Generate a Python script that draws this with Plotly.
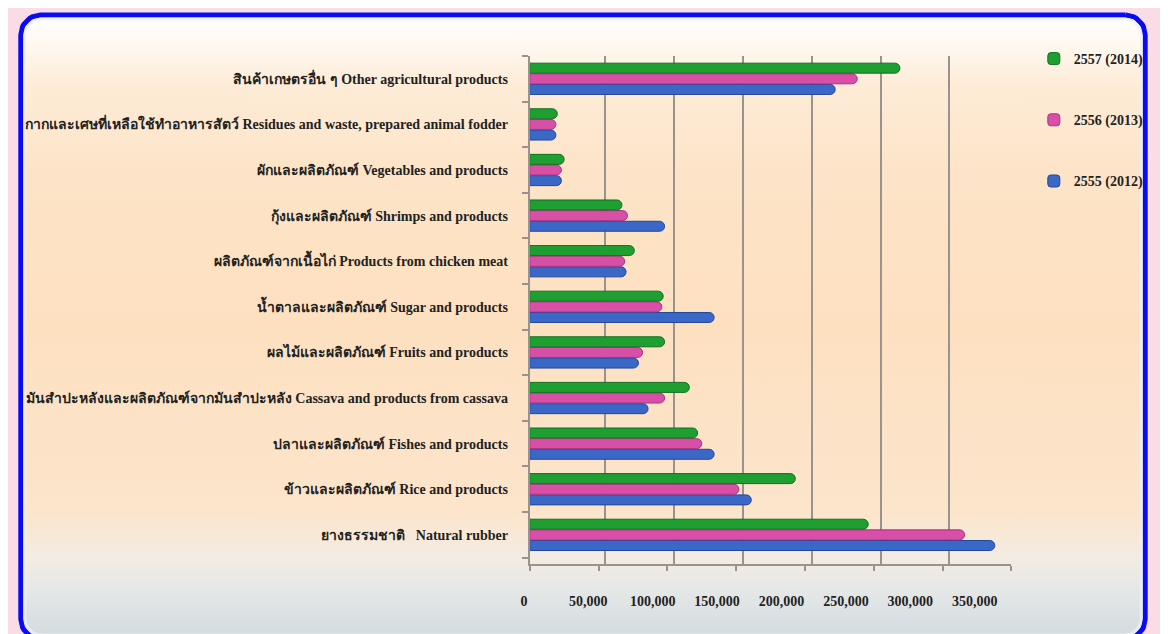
import numpy as np
import plotly.graph_objects as go

# categories listed bottom -> top
categories = [
    'ยางธรรมชาติ   Natural rubber',
    'ข้าวและผลิตภัณฑ์ Rice and products',
    'ปลาและผลิตภัณฑ์ Fishes and products',
    'มันสำปะหลังและผลิตภัณฑ์จากมันสำปะหลัง Cassava and products from cassava',
    'ผลไม้และผลิตภัณฑ์ Fruits and products',
    'น้ำตาลและผลิตภัณฑ์ Sugar and products',
    'ผลิตภัณฑ์จากเนื้อไก่ Products from chicken meat',
    'กุ้งและผลิตภัณฑ์ Shrimps and products',
    'ผักและผลิตภัณฑ์ Vegetables and products',
    'กากและเศษที่เหลือใช้ทำอาหารสัตว์ Residues and waste, prepared animal fodder',
    'สินค้าเกษตรอื่น ๆ Other agricultural products',
]
y2555 = [338000, 161000, 134000, 86000, 79000, 134000, 70000, 98000, 23000, 19000, 222000]
y2556 = [316000, 152000, 125000, 98000, 82000, 96000, 69000, 71000, 23000, 19000, 238000]
y2557 = [246000, 193000, 122000, 116000, 98000, 97000, 76000, 67000, 25000, 20000, 269000]
series_names = ['2555 (2012)', '2556 (2013)', '2557 (2014)']
tick_vals = [0, 50000, 100000, 150000, 200000, 250000, 300000, 350000]
tick_text = ['0', '50,000', '100,000', '150,000', '200,000', '250,000', '300,000', '350,000']

W, H = 1168, 634
fx = lambda p: p / W
fy = lambda p: 1 - p / H


def rounded_rect(x0, y0, x1, y1, r, n=12):
    # pixel coords -> paper fractions, corners rounded
    pts = []
    corners = [(x1 - r, y0 + r, -90, 0), (x1 - r, y1 - r, 0, 90),
               (x0 + r, y1 - r, 90, 180), (x0 + r, y0 + r, 180, 270)]
    for cx, cy, a0, a1 in corners:
        for a in np.linspace(np.radians(a0), np.radians(a1), n):
            pts.append((cx + r * np.cos(a), cy + r * np.sin(a)))
    pts.append(pts[0])
    xs = [fx(p[0]) for p in pts]
    ys = [fy(p[1]) for p in pts]
    return xs, ys


fig = go.Figure()

# background panel with gradient and blue rounded border (subplot xy, drawn first)
bx, by = rounded_rect(9, 7, 1160, 631, 20)
fig.add_trace(go.Scatter(
    x=bx, y=by, mode='lines', fill='toself', hoverinfo='skip', showlegend=False,
    line=dict(color='#0a0af5', width=5),
    fillgradient=dict(type='vertical', colorscale=[
        [0.0, '#d4dce1'], [0.04, '#dbe1e4'], [0.08, '#e6e8e7'], [0.13, '#f3ece3'],
        [0.2, '#fce5cc'], [0.5, '#fde0c0'], [0.75, '#fde4c8'], [0.89, '#fdecd8'],
        [0.95, '#fef8f0'], [1.0, '#ffffff']]),
    xaxis='x', yaxis='y'))
# soft inner rim
ix, iy = rounded_rect(13, 11, 1156, 627, 17)
fig.add_trace(go.Scatter(x=ix, y=iy, mode='lines', hoverinfo='skip', showlegend=False,
                         line=dict(color='rgba(235,240,248,0.8)', width=3),
                         xaxis='x', yaxis='y'))

# helper traces so the back-wall grid (x2) and the tick-label axis (x3) are drawn
fig.add_trace(go.Scatter(x=[0], y=[categories[0]], mode='markers', opacity=0,
                         hoverinfo='skip', showlegend=False, xaxis='x2', yaxis='y2'))
fig.add_trace(go.Scatter(x=[0], y=[categories[0]], mode='markers', opacity=0,
                         hoverinfo='skip', showlegend=False, xaxis='x3', yaxis='y2'))

colors = ['#3b68c6', '#d84fa8', '#1f9e32']
edges = ['#23479a', '#a8327c', '#127020']
ranks = [3, 2, 1]
for name, vals, c, e, rk in zip(series_names, [y2555, y2556, y2557], colors, edges, ranks):
    fig.add_trace(go.Bar(
        y=categories, x=vals, name=name, orientation='h', legendgroup=name, legendrank=rk,
        marker=dict(color=c, line=dict(color=e, width=1), cornerradius='50%'),
        xaxis='x4', yaxis='y2'))

serif = 'Liberation Serif, Times New Roman, serif'
grey = '#9a928c'

fig.update_layout(
    width=W, height=H,
    margin=dict(l=0, r=0, t=0, b=0),
    paper_bgcolor='#f9dce6',
    plot_bgcolor='rgba(0,0,0,0)',
    barmode='group', bargap=0.3, bargroupgap=0.06,
    font=dict(family=serif, color='#222222'),
    xaxis=dict(domain=[0, 1], range=[0, 1], visible=False, fixedrange=True),
    yaxis=dict(domain=[0, 1], range=[0, 1], visible=False, fixedrange=True),
    # back wall gridlines, shifted a little right of the front axis
    xaxis2=dict(domain=[fx(537), fx(1030)], range=[0, 350000], anchor='free', position=0,
                showgrid=True, gridcolor=grey, gridwidth=2, zeroline=False,
                showline=False, ticks='', tickvals=tick_vals, showticklabels=False),
    # tick labels, set lower and narrower as in the original
    xaxis3=dict(domain=[fx(524), fx(985.5)], range=[0, 350000],
                anchor='free', position=fy(583), showgrid=False, zeroline=False,
                showline=False, ticks='', tickvals=tick_vals, ticktext=tick_text,
                tickfont=dict(size=14, family=serif, weight='bold', color='#222222')),
    # front axis carrying the bars
    xaxis4=dict(domain=[fx(530), fx(1023)], range=[0, 350000], anchor='y2',
                showgrid=False, zeroline=False, showline=True, linecolor=grey, linewidth=2,
                ticks='outside', ticklen=5, tickcolor=grey, tickwidth=2,
                tickvals=tick_vals, showticklabels=False),
    yaxis2=dict(domain=[fy(556), fy(48)], anchor='x4', showgrid=False,
                showline=True, linecolor=grey, linewidth=2,
                ticks='outside', tickson='boundaries', ticklen=6, tickcolor=grey, tickwidth=2,
                ticklabelstandoff=17,
                tickfont=dict(size=14, family=serif, weight='bold', color='#222222')),
    legend=dict(x=fx(1046), y=fy(35), xanchor='left', yanchor='top',
                traceorder='grouped', tracegroupgap=40,
                bgcolor='rgba(0,0,0,0)',
                font=dict(size=14, family=serif, weight='bold', color='#222222')),
)

fig.write_html('out.html')
